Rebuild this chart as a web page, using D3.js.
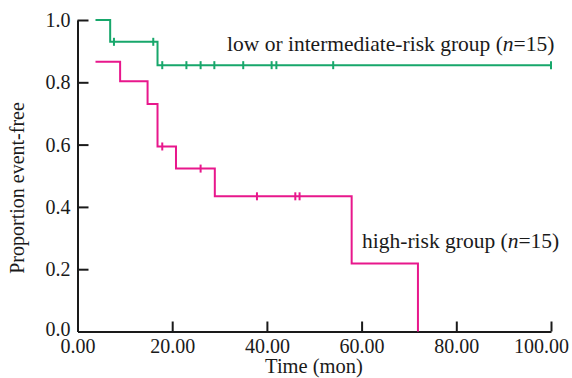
<!DOCTYPE html>
<html>
<head>
<meta charset="utf-8">
<script src="https://cdn.jsdelivr.net/npm/d3@7"></script>
<style>
  body { margin: 0; background: #fff; }
  text { font-family: "Liberation Serif", "Times New Roman", serif; fill: #1a1a1a; }
</style>
</head>
<body>
<div class="chart-wrapper"></div>
<script>
// Kaplan-Meier step data (time in months, survival proportion)
var lowTimes = [3.8, 6.9, 16.9, 100];
var lowSurv = [1.0, 0.93, 0.855, 0.855];
var lowCensor = [7.7, 16.0, 17.9, 23.0, 26.0, 28.9, 35.0, 41.0, 42.0, 54.0, 100];

var highTimes = [3.8, 9.0, 14.8, 16.9, 20.8, 29.0, 57.9, 71.9];
var highSurv = [0.866, 0.803, 0.73, 0.594, 0.523, 0.434, 0.218, 0.0];
var highCensor = [17.9, 26.0, 37.9, 46.0, 46.9];

var xTicks = [0, 20, 40, 60, 80, 100];
var yTicks = [0, 0.2, 0.4, 0.6, 0.8, 1.0];

var width = 572, height = 378;
var margin = {top: 20, right: 21, bottom: 46.5, left: 77.5};

var svg = d3.select(".chart-wrapper").append("svg")
  .attr("width", width)
  .attr("height", height);

var x = d3.scaleLinear().domain([0, 100]).range([margin.left, width - margin.right]);
var y = d3.scaleLinear().domain([0, 1]).range([height - margin.bottom, margin.top]);

//Axes: ticks point inward on both
var yAxis = svg.append("g")
  .attr("transform", "translate(" + margin.left + ",0)")
  .call(d3.axisLeft(y).tickValues(yTicks).tickFormat(d3.format(".1f")).tickSizeInner(-11).tickSizeOuter(0));
var xAxis = svg.append("g")
  .attr("transform", "translate(0," + y(0) + ")")
  .call(d3.axisBottom(x).tickValues(xTicks).tickFormat(d3.format(".2f")).tickSizeInner(-10).tickSizeOuter(0));

[xAxis, yAxis].forEach(function(ax) {
  ax.select(".domain").attr("stroke", "#1a1a1a").attr("stroke-width", 2);
  ax.selectAll(".tick line").attr("stroke", "#1a1a1a").attr("stroke-width", 2);
  ax.selectAll(".tick text").style("font-size", "20px").attr("fill", "#1a1a1a");
});
xAxis.selectAll(".tick text").attr("y", 7);
xAxis.selectAll(".tick").filter(function(d) { return d === 0; }).select("line").remove();
xAxis.selectAll(".tick").filter(function(d) { return d === 100; }).select("text").attr("dx", -10);
yAxis.selectAll(".tick").filter(function(d) { return d === 0; }).select("line").remove();
yAxis.selectAll(".tick text").attr("x", -7);
yAxis.selectAll(".tick").filter(function(d) { return d === 0; }).select("text").attr("dy", "0.2em");

//Step function helper
function stepValue(times, surv, t) {
  var v = surv[0];
  for (var i = 0; i < times.length; i++) if (times[i] <= t) v = surv[i];
  return v;
}

function drawCurve(times, surv, censor, color) {
  var pts = times.map(function(t, i) { return [t, surv[i]]; });
  var line = d3.line()
    .x(function(d) { return x(d[0]); })
    .y(function(d) { return y(d[1]); })
    .curve(d3.curveStepAfter);
  svg.append("path")
    .attr("d", line(pts))
    .attr("fill", "none")
    .attr("stroke", color)
    .attr("stroke-width", 2);
  svg.selectAll(null)
    .data(censor)
    .enter().append("line")
    .attr("x1", function(d) { return x(d); })
    .attr("x2", function(d) { return x(d); })
    .attr("y1", function(d) { return y(stepValue(times, surv, d)) - 4; })
    .attr("y2", function(d) { return y(stepValue(times, surv, d)) + 4; })
    .attr("stroke", color)
    .attr("stroke-width", 2);
}

drawCurve(lowTimes, lowSurv, lowCensor, "#17a76b");
drawCurve(highTimes, highSurv, highCensor, "#e8178c");

//Group labels
function groupLabel(xPos, yPos, name) {
  var t = svg.append("text")
    .attr("x", xPos)
    .attr("y", yPos)
    .style("font-size", "21.5px");
  t.append("tspan").text(name + " (");
  t.append("tspan").style("font-style", "italic").text("n");
  t.append("tspan").text("=15)");
}
groupLabel(227, 51, "low or intermediate-risk group");
groupLabel(362, 248, "high-risk group");

//Axis titles
svg.append("text")
  .attr("x", 314)
  .attr("y", 373)
  .attr("text-anchor", "middle")
  .style("font-size", "20.5px")
  .text("Time (mon)");

svg.append("text")
  .attr("transform", "translate(24,188) rotate(-90)")
  .attr("text-anchor", "middle")
  .style("font-size", "20px")
  .text("Proportion event-free");
</script>
</body>
</html>
